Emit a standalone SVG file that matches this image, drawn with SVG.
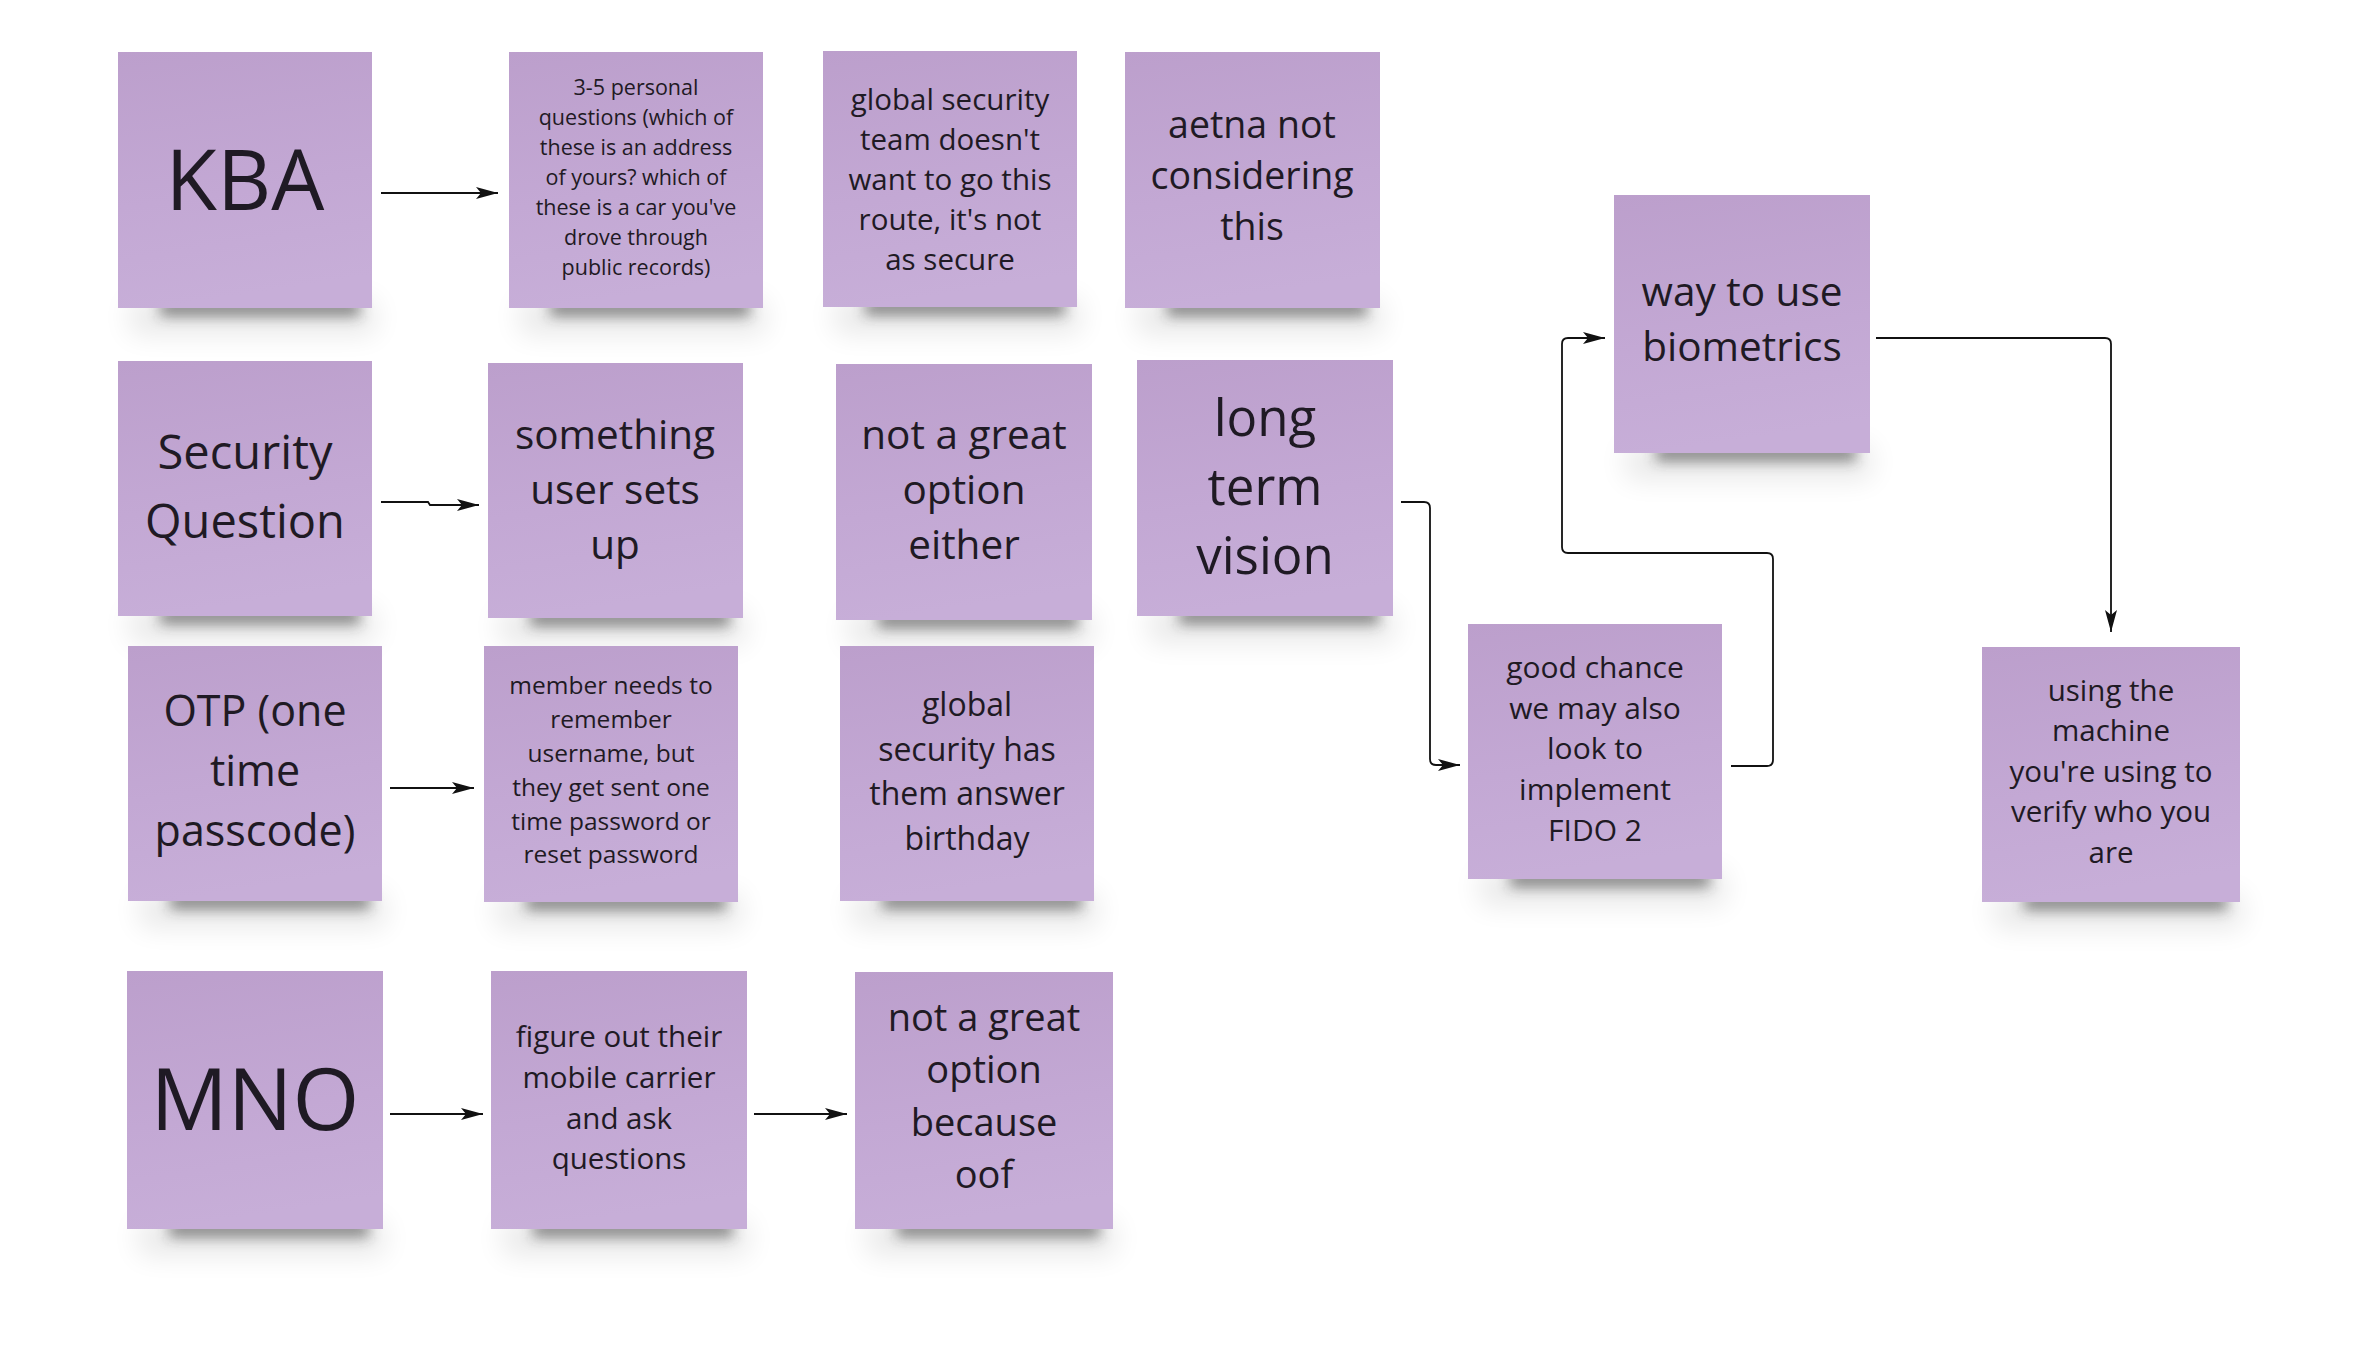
<svg xmlns="http://www.w3.org/2000/svg" width="2379" height="1350" viewBox="0 0 2379 1350">
<defs>
<linearGradient id="paper" x1="0" y1="0" x2="0.15" y2="1">
<stop offset="0" stop-color="#bc9fcc"/>
<stop offset="0.6" stop-color="#c3a8d4"/>
<stop offset="1" stop-color="#c7aed8"/>
</linearGradient>
<filter id="blurDark" x="-20%" y="-200%" width="140%" height="500%"><feGaussianBlur stdDeviation="7"/></filter>
<filter id="blurSoft" x="-20%" y="-200%" width="140%" height="500%"><feGaussianBlur stdDeviation="14"/></filter>
<marker id="arr" markerUnits="userSpaceOnUse" markerWidth="24" markerHeight="14" refX="22" refY="7" orient="auto">
<path d="M0,1 L22,7 L0,13 L5,7 z" fill="#111"/>
</marker>
</defs>
<style>
.note rect.p{fill:url(#paper);}
.sd{fill:#2e2e2e;opacity:.55;filter:url(#blurDark);}
.ss{fill:#000;opacity:.09;filter:url(#blurSoft);}
text{font-family:"Open Sans","Noto Sans","Liberation Sans",sans-serif;fill:#1f1a24;text-anchor:middle;}
.con path{fill:none;stroke:#111;stroke-width:1.8;}
</style>
<rect width="2379" height="1350" fill="#ffffff"/>

<g id="kba" class="note">
<rect class="ss" x="130" y="300" width="245" height="34"/>
<rect class="sd" x="160" y="300" width="200" height="16"/>
<rect class="p" x="118" y="52" width="254" height="256"/>
<text x="245" y="210" font-size="84">KBA</text>
</g>

<g id="personal-questions" class="note">
<rect class="ss" x="520" y="300" width="245" height="34"/>
<rect class="sd" x="550" y="300" width="200" height="16"/>
<rect class="p" x="509" y="52" width="254" height="256"/>
<text x="636" y="95" font-size="21.5">3-5 personal</text>
<text x="636" y="125" font-size="21.5">questions (which of</text>
<text x="636" y="155" font-size="21.5">these is an address</text>
<text x="636" y="185" font-size="21.5">of yours? which of</text>
<text x="636" y="215" font-size="21.5">these is a car you've</text>
<text x="636" y="245" font-size="21.5">drove through</text>
<text x="636" y="275" font-size="21.5">public records)</text>
</g>

<g id="global-security-team" class="note">
<rect class="ss" x="835" y="299" width="245" height="34"/>
<rect class="sd" x="865" y="299" width="200" height="16"/>
<rect class="p" x="823" y="51" width="254" height="256"/>
<text x="950" y="110" font-size="29.5">global security</text>
<text x="950" y="150" font-size="29.5">team doesn't</text>
<text x="950" y="190" font-size="29.5">want to go this</text>
<text x="950" y="230" font-size="29.5">route, it's not</text>
<text x="950" y="270" font-size="29.5">as secure</text>
</g>

<g id="aetna" class="note">
<rect class="ss" x="1137" y="300" width="245" height="34"/>
<rect class="sd" x="1167" y="300" width="200" height="16"/>
<rect class="p" x="1125" y="52" width="255" height="256"/>
<text x="1252" y="138" font-size="37.5">aetna not</text>
<text x="1252" y="189" font-size="37.5">considering</text>
<text x="1252" y="240" font-size="37.5">this</text>
</g>

<g id="biometrics" class="note">
<rect class="ss" x="1626" y="445" width="245" height="34"/>
<rect class="sd" x="1656" y="445" width="200" height="16"/>
<rect class="p" x="1614" y="195" width="256" height="258"/>
<text x="1742" y="306" font-size="40.5">way to use</text>
<text x="1742" y="361" font-size="40.5">biometrics</text>
</g>

<g id="security-question" class="note">
<rect class="ss" x="130" y="608" width="245" height="34"/>
<rect class="sd" x="160" y="608" width="200" height="16"/>
<rect class="p" x="118" y="361" width="254" height="255"/>
<text x="245" y="469" font-size="47">Security</text>
<text x="245" y="538" font-size="47">Question</text>
</g>

<g id="user-sets-up" class="note">
<rect class="ss" x="500" y="610" width="245" height="34"/>
<rect class="sd" x="530" y="610" width="200" height="16"/>
<rect class="p" x="488" y="363" width="255" height="255"/>
<text x="615" y="449" font-size="40.5">something</text>
<text x="615" y="504" font-size="40.5">user sets</text>
<text x="615" y="559" font-size="40.5">up</text>
</g>

<g id="not-great-either" class="note">
<rect class="ss" x="848" y="612" width="245" height="34"/>
<rect class="sd" x="878" y="612" width="200" height="16"/>
<rect class="p" x="836" y="364" width="256" height="256"/>
<text x="964" y="449" font-size="40.5">not a great</text>
<text x="964" y="504" font-size="40.5">option</text>
<text x="964" y="559" font-size="40.5">either</text>
</g>

<g id="long-term-vision" class="note">
<rect class="ss" x="1149" y="608" width="245" height="34"/>
<rect class="sd" x="1179" y="608" width="200" height="16"/>
<rect class="p" x="1137" y="360" width="256" height="256"/>
<text x="1265" y="436" font-size="51">long</text>
<text x="1265" y="505" font-size="51">term</text>
<text x="1265" y="574" font-size="51">vision</text>
</g>

<g id="otp" class="note">
<rect class="ss" x="140" y="893" width="245" height="34"/>
<rect class="sd" x="170" y="893" width="200" height="16"/>
<rect class="p" x="128" y="646" width="254" height="255"/>
<text x="255" y="726" font-size="43">OTP (one</text>
<text x="255" y="786" font-size="43">time</text>
<text x="255" y="846" font-size="43">passcode)</text>
</g>

<g id="member-needs" class="note">
<rect class="ss" x="496" y="894" width="245" height="34"/>
<rect class="sd" x="526" y="894" width="200" height="16"/>
<rect class="p" x="484" y="646" width="254" height="256"/>
<text x="611" y="694" font-size="24.5">member needs to</text>
<text x="611" y="728" font-size="24.5">remember</text>
<text x="611" y="762" font-size="24.5">username, but</text>
<text x="611" y="796" font-size="24.5">they get sent one</text>
<text x="611" y="830" font-size="24.5">time password or</text>
<text x="611" y="863" font-size="24.5">reset password</text>
</g>

<g id="global-security-birthday" class="note">
<rect class="ss" x="852" y="893" width="245" height="34"/>
<rect class="sd" x="882" y="893" width="200" height="16"/>
<rect class="p" x="840" y="646" width="254" height="255"/>
<text x="967" y="716" font-size="32">global</text>
<text x="967" y="761" font-size="32">security has</text>
<text x="967" y="805" font-size="32">them answer</text>
<text x="967" y="850" font-size="32">birthday</text>
</g>

<g id="fido2" class="note">
<rect class="ss" x="1480" y="871" width="245" height="34"/>
<rect class="sd" x="1510" y="871" width="200" height="16"/>
<rect class="p" x="1468" y="624" width="254" height="255"/>
<text x="1595" y="678" font-size="30">good chance</text>
<text x="1595" y="719" font-size="30">we may also</text>
<text x="1595" y="759" font-size="30">look to</text>
<text x="1595" y="800" font-size="30">implement</text>
<text x="1595" y="841" font-size="30">FIDO 2</text>
</g>

<g id="using-machine" class="note">
<rect class="ss" x="1994" y="894" width="248" height="34"/>
<rect class="sd" x="2024" y="894" width="203" height="16"/>
<rect class="p" x="1982" y="647" width="258" height="255"/>
<text x="2111" y="701" font-size="29.5">using the</text>
<text x="2111" y="741" font-size="29.5">machine</text>
<text x="2111" y="782" font-size="29.5">you're using to</text>
<text x="2111" y="822" font-size="29.5">verify who you</text>
<text x="2111" y="863" font-size="29.5">are</text>
</g>

<g id="mno" class="note">
<rect class="ss" x="139" y="1221" width="245" height="34"/>
<rect class="sd" x="169" y="1221" width="200" height="16"/>
<rect class="p" x="127" y="971" width="256" height="258"/>
<text x="255" y="1130" font-size="86">MNO</text>
</g>

<g id="mobile-carrier" class="note">
<rect class="ss" x="503" y="1221" width="245" height="34"/>
<rect class="sd" x="533" y="1221" width="200" height="16"/>
<rect class="p" x="491" y="971" width="256" height="258"/>
<text x="619" y="1047" font-size="29.5">figure out their</text>
<text x="619" y="1088" font-size="29.5">mobile carrier</text>
<text x="619" y="1129" font-size="29.5">and ask</text>
<text x="619" y="1169" font-size="29.5">questions</text>
</g>

<g id="not-great-oof" class="note">
<rect class="ss" x="867" y="1221" width="248" height="34"/>
<rect class="sd" x="897" y="1221" width="203" height="16"/>
<rect class="p" x="855" y="972" width="258" height="257"/>
<text x="984" y="1031" font-size="38">not a great</text>
<text x="984" y="1083" font-size="38">option</text>
<text x="984" y="1136" font-size="38">because</text>
<text x="984" y="1188" font-size="38">oof</text>
</g>

<g id="connectors" class="con">
<path d="M381,193 L498,193" marker-end="url(#arr)"/>
<path d="M381,502 L428,502 L430,505 L479,505" marker-end="url(#arr)"/>
<path d="M390,788 L474,788" marker-end="url(#arr)"/>
<path d="M390,1114 L483,1114" marker-end="url(#arr)"/>
<path d="M754,1114 L847,1114" marker-end="url(#arr)"/>
<path d="M1401,502 L1424,502 Q1430,502 1430,508 L1430,759 Q1430,765 1436,765 L1460,765" marker-end="url(#arr)"/>
<path d="M1731,766 L1767,766 Q1773,766 1773,760 L1773,559 Q1773,553 1767,553 L1568,553 Q1562,553 1562,547 L1562,344 Q1562,338 1568,338 L1605,338" marker-end="url(#arr)"/>
<path d="M1876,338 L2105,338 Q2111,338 2111,344 L2111,632" marker-end="url(#arr)"/>
</g>
</svg>
